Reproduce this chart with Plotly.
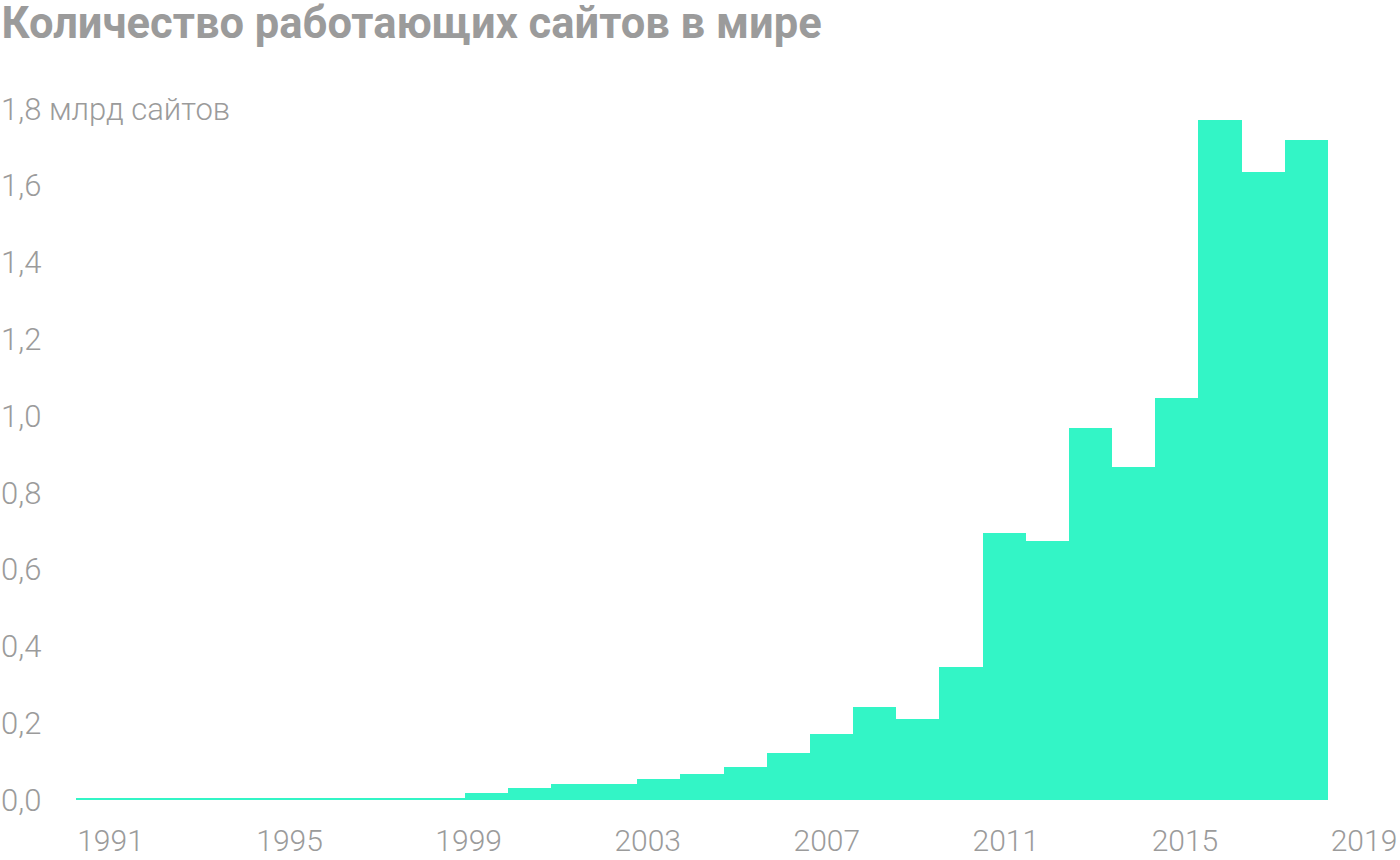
import plotly.graph_objects as go

years = list(range(1991, 2020))
sites_bln = [0.005, 0.005, 0.005, 0.005, 0.005, 0.005, 0.005, 0.005, 0.005,
             0.018, 0.032, 0.041, 0.041, 0.054, 0.068, 0.087, 0.123, 0.172,
             0.242, 0.211, 0.346, 0.695, 0.674, 0.969, 0.867, 1.047, 1.771,
             1.635, 1.72]
tick_years = [1991, 1995, 1999, 2003, 2007, 2011, 2015, 2019]
y_ticks = [0, 0.2, 0.4, 0.6, 0.8, 1.0, 1.2, 1.4, 1.6, 1.8]
y_ticktext = ["0,0", "0,2", "0,4", "0,6", "0,8", "1,0", "1,2", "1,4", "1,6", "1,8 млрд сайтов"]
title = "Количество работающих сайтов в мире"

W, H = 1400, 860
BAR = "#33F5C6"
GREY = "#9B9B9B"

plot_left = 76
bar_px = (1328 - 76) / 29          # pixels per year for bars
lab_px = (1364 - 110.5) / 28       # pixels per year for labels
y0_px = 800
px_per_unit = 384
top_m, bot_m = 51, H - y0_px

fig = go.Figure()
fig.add_trace(go.Bar(
    x=years, y=sites_bln, width=1,
    marker=dict(color=BAR, line=dict(width=0)),
    hoverinfo="skip",
))
# helper trace for label axis
fig.add_trace(go.Scatter(
    x=tick_years, y=[0] * len(tick_years), xaxis="x2", mode="markers",
    marker=dict(opacity=0), hoverinfo="skip", showlegend=False,
))

plot_w = W - plot_left
x_lo = 1990.5
x_hi = x_lo + plot_w / bar_px
x2_lo = 1991 - (110.5 - plot_left) / lab_px
x2_hi = 1991 + (W - 110.5) / lab_px

xtickfont = dict(family="Roboto", size=30, color=GREY, weight=300)
ytickfont = dict(family="Roboto", size=31, color=GREY, weight=300)

fig.update_layout(
    width=W, height=H,
    margin=dict(l=0, r=0, t=top_m, b=bot_m),
    paper_bgcolor="white", plot_bgcolor="white",
    showlegend=False, bargap=0,
    font=dict(family="Roboto", color=GREY),
    title=dict(text=title, x=0.001, xanchor="left", xref="paper",
               y=1 - 23 / H, yanchor="middle",
               font=dict(family="Roboto", size=43.5, color=GREY, weight="bold")),
    xaxis=dict(domain=[plot_left / W, 1], range=[x_lo, x_hi],
               showticklabels=False, showgrid=False, zeroline=False,
               showline=False, ticks=""),
    xaxis2=dict(overlaying="x", anchor="y", side="bottom",
                range=[x2_lo, x2_hi], tickvals=tick_years,
                ticktext=[str(t) for t in tick_years],
                showgrid=False, zeroline=False, showline=False, ticks="",
                ticklabelstandoff=20, tickfont=xtickfont),
    yaxis=dict(range=[0, (H - top_m - bot_m) / px_per_unit],
               anchor="free", position=0, side="right",
               tickvals=y_ticks, ticktext=y_ticktext, ticks="",
               ticklabelstandoff=0,
               showgrid=False, zeroline=False, showline=False,
               tickfont=ytickfont),
)

fig.write_html("out.html")
